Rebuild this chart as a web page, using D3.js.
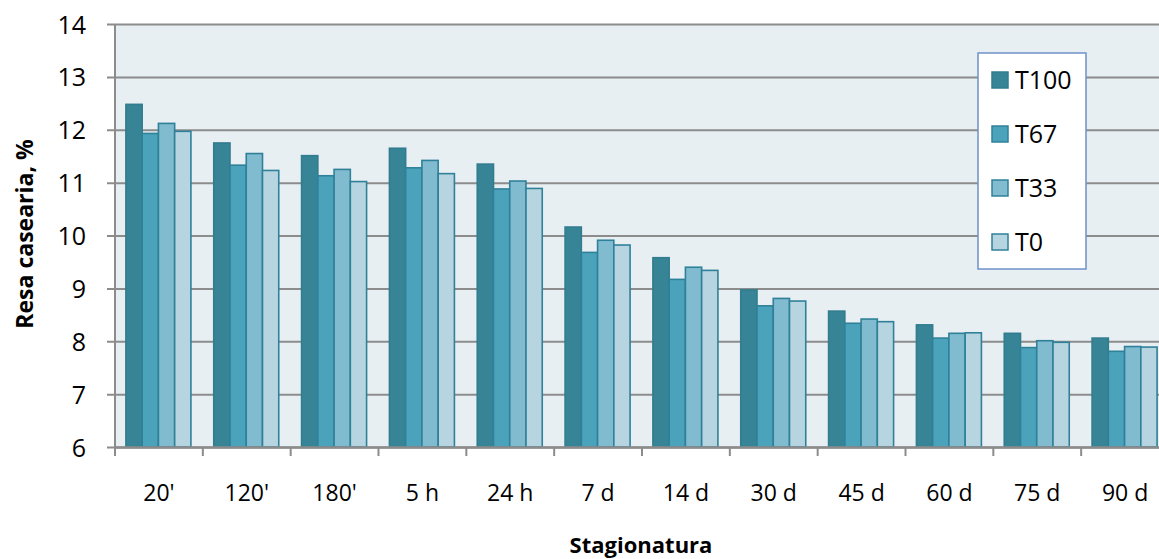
<!DOCTYPE html>
<html>
<head>
<meta charset="utf-8">
<script src="https://cdn.jsdelivr.net/npm/d3@7"></script>
<style>
  body { margin: 0; background: #fff; }
  svg { display: block; font-family: "Open Sans", "Noto Sans", sans-serif; }
</style>
</head>
<body>
<div id="chart"></div>
<script>
// categories (stagionatura) and the four series
const categories = ["20'", "120'", "180'", "5 h", "24 h", "7 d", "14 d", "30 d", "45 d", "60 d", "75 d", "90 d"];
const seriesNames = ["T100", "T67", "T33", "T0"];
const T100 = [12.48, 11.75, 11.51, 11.65, 11.35, 10.16, 9.58, 8.97, 8.57, 8.31, 8.15, 8.06];
const T67  = [11.93, 11.33, 11.13, 11.28, 10.88, 9.68, 9.17, 8.67, 8.34, 8.06, 7.88, 7.81];
const T33  = [12.12, 11.55, 11.25, 11.42, 11.03, 9.91, 9.40, 8.81, 8.42, 8.15, 8.01, 7.90];
const T0   = [11.97, 11.23, 11.02, 11.17, 10.89, 9.82, 9.34, 8.76, 8.37, 8.16, 7.98, 7.89];
const yTicks = [6, 7, 8, 9, 10, 11, 12, 13, 14];

const seriesValues = [T100, T67, T33, T0];
const colors = ["#378496", "#4aa3bb", "#80bbd0", "#b7d5e0"];
const strokes = ["#317d8f", "#2f8199", "#2f8199", "#2f8199"];

const W = 1159, H = 559;
const M = {left: 115, top: 24, right: -10, bottom: 112};
const plotW = W - M.left - M.right;
const plotH = H - M.top - M.bottom;

const svg = d3.select("#chart")
    .append("svg")
    .attr("width", W)
    .attr("height", H);

// group scale (one band per category)
const x0 = d3.scaleBand()
    .domain(categories)
    .range([M.left, M.left + plotW])
    .padding(0);

// bars inside a group
const gap = x0.bandwidth() * 0.26;
const x1 = d3.scaleBand()
    .domain(seriesNames)
    .range([gap / 2 - 0.5, x0.bandwidth() - gap / 2 - 0.5])
    .padding(0);

const y = d3.scaleLinear()
    .domain([6, 14])
    .range([M.top + plotH, M.top]);

// plot background
svg.append("rect")
    .attr("x", M.left)
    .attr("y", M.top)
    .attr("width", plotW)
    .attr("height", plotH)
    .attr("fill", "#e8eff3");

// gridlines + y ticks
const yAxis = svg.append("g")
    .attr("transform", `translate(${M.left},0)`)
    .call(d3.axisLeft(y).tickValues(yTicks).tickSize(-plotW - 8).tickSizeOuter(0).tickPadding(0));
yAxis.select(".domain").remove();
yAxis.selectAll(".tick line")
    .attr("x1", -8)
    .attr("x2", plotW)
    .attr("stroke", "#8c8c8c")
    .attr("stroke-width", 2);
yAxis.selectAll(".tick text")
    .attr("x", -29)
    .attr("dy", "0.36em")
    .attr("font-size", 25)
    .attr("fill", "#000")
    .style("font-family", "'Open Sans', sans-serif");

// bars
const groups = svg.append("g")
    .selectAll("g")
    .data(categories)
    .join("g")
    .attr("transform", d => `translate(${x0(d)},0)`);

groups.selectAll("rect")
    .data((d, i) => seriesNames.map((s, j) => ({s, j, v: seriesValues[j][i]})))
    .join("rect")
    .attr("x", d => x1(d.s))
    .attr("y", d => y(d.v))
    .attr("width", x1.bandwidth())
    .attr("height", d => y(6) - y(d.v))
    .attr("fill", d => colors[d.j])
    .attr("stroke", d => strokes[d.j])
    .attr("stroke-width", 1.6);

// y axis line
svg.append("line")
    .attr("x1", M.left).attr("x2", M.left)
    .attr("y1", M.top).attr("y2", M.top + plotH)
    .attr("stroke", "#8c8c8c")
    .attr("stroke-width", 2);

// x axis
const xAxis = svg.append("g")
    .attr("transform", `translate(0,${M.top + plotH})`)
    .call(d3.axisBottom(x0).tickSize(0).tickSizeOuter(0));
xAxis.select(".domain")
    .attr("stroke", "#8c8c8c")
    .attr("stroke-width", 2.5);
xAxis.selectAll(".tick text")
    .attr("y", 46)
    .attr("dy", "0.36em")
    .attr("font-size", 23)
    .attr("fill", "#000")
    .style("font-family", "'Open Sans', sans-serif");

// category boundary ticks
svg.append("g")
    .selectAll("line")
    .data(categories)
    .join("line")
    .attr("x1", d => x0(d))
    .attr("x2", d => x0(d))
    .attr("y1", M.top + plotH)
    .attr("y2", M.top + plotH + 9)
    .attr("stroke", "#8c8c8c")
    .attr("stroke-width", 2);

// axis titles
svg.append("text")
    .attr("x", 641)
    .attr("y", 553)
    .attr("text-anchor", "middle")
    .attr("font-weight", "bold")
    .attr("font-size", 22)
    .text("Stagionatura");

svg.append("text")
    .attr("transform", "translate(25,234) rotate(-90)")
    .attr("dy", "0.36em")
    .attr("text-anchor", "middle")
    .attr("font-weight", "bold")
    .attr("font-size", 23)
    .text("Resa casearia, %");

// legend
const legend = svg.append("g");
legend.append("rect")
    .attr("x", 978)
    .attr("y", 53)
    .attr("width", 108)
    .attr("height", 216)
    .attr("fill", "#fff")
    .attr("stroke", "#6d92c9")
    .attr("stroke-width", 1.5);

const legendY = d3.scalePoint()
    .domain(seriesNames)
    .range([80, 242]);

const items = legend.selectAll("g.item")
    .data(seriesNames)
    .join("g")
    .attr("class", "item")
    .attr("transform", d => `translate(992,${legendY(d)})`);

items.append("rect")
    .attr("x", 0)
    .attr("y", -8)
    .attr("width", 16)
    .attr("height", 16)
    .attr("fill", (d, i) => colors[i])
    .attr("stroke", (d, i) => strokes[i])
    .attr("stroke-width", 1.5);

items.append("text")
    .attr("x", 23)
    .attr("dy", "0.36em")
    .attr("font-size", 25)
    .text(d => d);
</script>
</body>
</html>
